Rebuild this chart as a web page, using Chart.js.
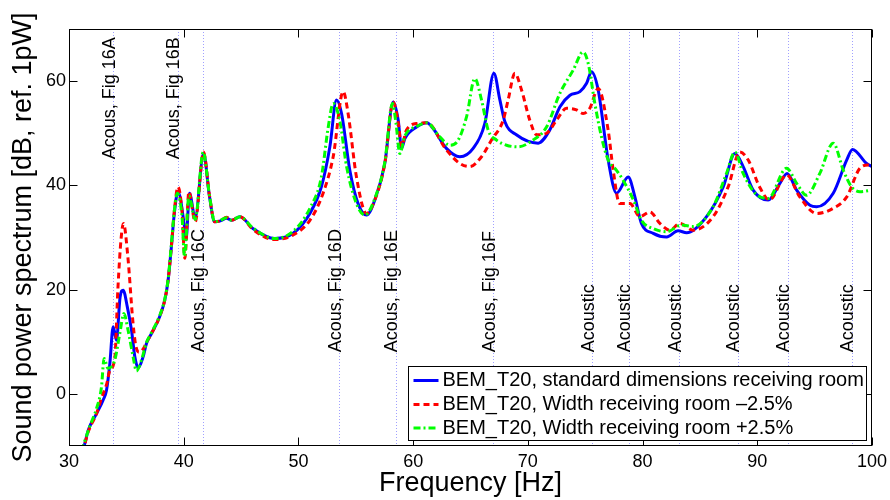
<!DOCTYPE html>
<html>
<head>
<meta charset="utf-8">
<script src="https://cdn.jsdelivr.net/npm/chart.js@4.4.0/dist/chart.umd.min.js"></script>
<style>
  html, body { margin: 0; padding: 0; background: #fff; }
  #wrap { width: 890px; height: 500px; }
</style>
</head>
<body>
<div id="wrap"><canvas id="chart" width="890" height="500"></canvas></div>
<script>
const FONT = '"Liberation Sans", Arial, Helvetica, sans-serif';

// axis ticks
const xTicks = [30, 40, 50, 60, 70, 80, 90, 100];
const yTicks = [0, 20, 40, 60];

// BEM_T20, standard dimensions
const blueFreq = [31.1, 31.38, 31.67, 32.4, 32.97, 33.27, 33.56, 33.85, 34.14, 34.45, 34.72, 35.1, 35.45, 35.74, 36.03,
  36.46, 36.76, 37.2, 37.9, 38.35, 38.64, 38.9, 39.2, 39.5, 40.07, 40.2, 40.5, 41.0, 41.73, 42.25, 42.7, 43.2, 43.73,
  44.17, 44.9, 46.05, 47.94, 49.54, 51.0, 52.0, 52.74, 53.32, 53.76, 54.48, 55.2, 55.94, 56.66, 57.53, 58.26, 58.7,
  58.99, 59.28, 60.3, 61.2, 61.74, 62.9, 64.07, 65.23, 66.25, 67.04, 67.56, 68.0, 69.0, 70.9, 71.9, 72.8, 73.67, 74.54,
  75.12, 75.55, 76.13, 77.0, 77.73, 78.75, 79.33, 79.9, 80.93, 82.1, 83.1, 83.84, 85.58, 87.03, 88.05, 88.77, 89.64,
  90.95, 91.97, 92.6, 93.43, 94.59, 95.17, 96.62, 97.8, 98.3, 99.53, 100];
const blueLevel = [-11.2, -9.5, -7.0, -3.8, -1.2, 0.7, 5.8, 12.9, 10.3, 18.5, 19.9, 16.5, 12.2, 7.1, 5.0,
  7.1, 9.7, 11.6, 14.8, 18.0, 21.8, 27.6, 35.0, 38.8, 32.0, 29.5, 38.5, 33.7, 46.1, 37.8, 33.0, 33.2, 33.7,
  33.3, 34.0, 31.7, 29.8, 30.8, 34.6, 39.7, 47.4, 56.4, 53.8, 42.9, 36.5, 34.3, 37.2, 44.2, 56.0, 52.5,
  47.1, 49.0, 51.2, 52.0, 50.9, 47.1, 45.5, 47.1, 51.9, 61.5, 56.4, 52.2, 49.7, 48.1, 50.6, 55.1, 57.3, 58.0,
  59.6, 61.8, 58.3, 44.9, 38.5, 41.6, 37.8, 32.7, 30.8, 30.1, 31.3, 30.9, 34.0, 39.7, 46.1, 43.6, 39.1,
  37.2, 40.4, 42.3, 39.1, 36.2, 35.9, 38.5, 44.9, 46.9, 44.2, 43.6];

// BEM_T20, width -2.5%
const redFreq = [31.1, 31.38, 31.67, 32.4, 32.83, 33.3, 33.56, 33.99, 34.27, 34.55, 34.75, 35.13, 35.56, 35.8, 36.1,
  36.46, 36.76, 37.2, 37.9, 38.35, 38.64, 38.9, 39.2, 39.5, 39.85, 40.1, 40.45, 41.0, 41.73, 42.25, 42.7, 43.2, 43.73,
  44.17, 44.9, 46.05, 47.94, 49.54, 51.0, 52.15, 53.03, 53.9, 54.33, 55.06, 55.94, 56.66, 57.53, 58.26, 58.7, 58.99,
  59.42, 60.43, 61.2, 62.9, 64.07, 64.94, 65.96, 66.83, 67.85, 68.28, 68.87, 69.45, 70.17, 70.76, 71.63, 72.5, 73.37,
  74.24, 74.82, 75.4, 76.13, 77.0, 77.44, 78.0, 78.9, 79.77, 80.64, 81.51, 82.38, 83.26, 84.4, 86.15, 87.46, 88.48,
  89.2, 90.2, 91.06, 92.55, 93.7, 95.17, 96.62, 97.8, 98.95, 99.67, 100];
const redLevel = [-11.2, -9.6, -7.3, -3.8, -0.8, 2.0, 4.5, 6.8, 20.5, 30.0, 32.7, 26.3, 14.1, 9.5, 8.0,
  8.6, 9.9, 11.6, 14.8, 18.0, 21.8, 27.6, 35.5, 39.7, 35.0, 26.0, 38.8, 33.0, 46.4, 38.0, 33.0, 33.2, 33.9,
  33.3, 34.0, 31.5, 29.6, 30.5, 33.3, 38.5, 45.5, 58.0, 53.8, 41.6, 34.6, 37.2, 44.2, 56.0, 52.0, 47.5,
  50.6, 51.9, 52.0, 46.8, 44.2, 43.6, 45.5, 48.7, 52.5, 56.4, 61.5, 58.3, 52.5, 49.7, 50.0, 52.5, 54.8,
  54.5, 53.8, 54.8, 58.6, 50.6, 42.9, 36.5, 36.5, 34.0, 34.9, 32.7, 31.4, 32.7, 31.4, 34.0, 39.7, 46.4,
  44.9, 39.7, 37.2, 42.0, 37.8, 34.6, 35.6, 37.8, 43.3, 43.9, 43.8];

// BEM_T20, width +2.5%
const greenFreq = [31.1, 31.38, 31.8, 32.4, 32.83, 33.06, 33.4, 33.99, 34.43, 34.78, 35.15, 35.59, 35.88, 36.32,
  36.76, 37.2, 37.9, 38.35, 38.64, 38.9, 39.2, 39.45, 39.85, 40.07, 40.45, 41.0, 41.7, 42.25, 42.7, 43.2, 43.73,
  44.17, 44.9, 46.05, 47.94, 49.54, 51.0, 52.0, 52.6, 53.03, 53.6, 54.2, 55.06, 55.8, 56.66, 57.53, 58.2, 58.5,
  58.84, 59.28, 60.3, 61.2, 62.33, 63.2, 63.93, 64.66, 65.38, 65.96, 66.54, 67.27, 68.14, 69.15, 70.46, 71.63,
  72.8, 73.95, 74.82, 75.26, 75.84, 76.42, 77.0, 77.73, 78.3, 79.2, 79.9, 80.93, 82.1, 83.4, 84.4, 86.15, 87.32,
  88.05, 88.77, 89.8, 90.95, 92.55, 93.43, 94.3, 95.45, 96.62, 97.5, 98.22, 98.95, 100];
const greenLevel = [-11.0, -9.0, -6.3, -2.8, 1.3, 6.8, 4.9, 6.5, 11.6, 15.4, 12.2, 7.1, 4.4, 6.5,
  9.9, 11.8, 15.0, 18.2, 22.0, 28.0, 35.5, 38.5, 34.0, 26.3, 38.0, 33.5, 46.4, 38.0, 33.0, 33.3, 33.8,
  33.3, 34.0, 31.8, 29.8, 31.2, 35.6, 41.6, 51.2, 55.7, 52.5, 43.6, 36.5, 34.3, 37.5, 44.5, 55.7, 52.0,
  46.1, 49.5, 51.3, 52.0, 49.3, 47.7, 48.7, 53.2, 60.5, 56.4, 50.6, 48.7, 47.7, 47.4, 48.7, 51.2,
  57.7, 62.1, 65.6, 63.4, 55.7, 49.3, 44.9, 42.9, 41.0, 37.2, 33.3, 31.7, 31.1, 32.4, 32.1, 35.9, 42.3,
  46.4, 42.3, 38.5, 37.5, 43.3, 40.4, 38.1, 42.3, 48.1, 42.9, 39.7, 38.8, 39.1];

// mode markers: frequency, label, text anchor level (dB)
const markerFreq = [33.85, 39.46, 41.64, 53.55, 58.49, 66.98, 75.6, 78.78, 83.19, 88.28, 92.67, 98.22];
const markerText = ['Acous, Fig 16A', 'Acous, Fig 16B', 'Acous, Fig 16C', 'Acous, Fig 16D', 'Acous, Fig 16E',
  'Acous, Fig 16F', 'Acoustic', 'Acoustic', 'Acoustic', 'Acoustic', 'Acoustic', 'Acoustic'];
const markerLevel = [45, 45, 8, 8, 8, 8, 8, 8, 8, 8, 8, 8];

const seriesLabels = ['BEM_T20, standard dimensions receiving room',
  'BEM_T20, Width receiving room \u20132.5%',
  'BEM_T20, Width receiving room +2.5%'];

function toPoints(xs, ys) {
    return xs.map((x, i) => ({ x: x, y: ys[i] }));
}

Chart.defaults.font.family = FONT;
Chart.defaults.color = '#000';

// dotted mode lines with rotated captions
const modeMarkers = {
    id: 'modeMarkers',
    beforeDatasetsDraw(chart) {
        const { ctx, chartArea: a, scales: { x, y } } = chart;
        ctx.save();
        ctx.strokeStyle = 'rgb(160,160,255)';
        ctx.lineWidth = 1;
        ctx.setLineDash([1, 2]);
        markerFreq.forEach(f => {
            const px = Math.round(x.getPixelForValue(f)) + 0.5;
            ctx.beginPath();
            ctx.moveTo(px, a.top);
            ctx.lineTo(px, a.bottom);
            ctx.stroke();
        });
        ctx.setLineDash([]);
        ctx.fillStyle = '#000';
        ctx.font = '18px ' + FONT;
        ctx.textAlign = 'left';
        ctx.textBaseline = 'alphabetic';
        markerFreq.forEach((f, i) => {
            const px = x.getPixelForValue(f) + 1.5;
            const py = y.getPixelForValue(markerLevel[i]);
            ctx.save();
            ctx.translate(px, py);
            ctx.rotate(-Math.PI / 2);
            ctx.fillText(markerText[i], 0, 0);
            ctx.restore();
        });
        ctx.restore();
    }
};

// box frame with inward ticks on all four sides
const frameTicks = {
    id: 'frameTicks',
    afterDraw(chart) {
        const { ctx, chartArea: a, scales: { x, y } } = chart;
        const L = Math.round(a.left) + 0.5, R = Math.round(a.right) - 0.5;
        const T = Math.round(a.top) + 0.5, B = Math.round(a.bottom) - 0.5;
        ctx.save();
        ctx.strokeStyle = '#000';
        ctx.lineWidth = 1;
        ctx.beginPath();
        xTicks.forEach(v => {
            const px = Math.round(x.getPixelForValue(v)) + 0.5;
            ctx.moveTo(px, B); ctx.lineTo(px, B - 8);
            ctx.moveTo(px, T); ctx.lineTo(px, T + 8);
        });
        yTicks.forEach(v => {
            const py = Math.round(y.getPixelForValue(v)) + 0.5;
            ctx.moveTo(L, py); ctx.lineTo(L + 8, py);
            ctx.moveTo(R, py); ctx.lineTo(R - 8, py);
        });
        ctx.stroke();
        ctx.strokeRect(L, T, R - L, B - T);
        ctx.restore();
    }
};

// legend box in the lower right corner of the axes
const legendBox = {
    id: 'legendBox',
    afterDraw(chart) {
        const { ctx, chartArea: a } = chart;
        const sets = chart.data.datasets;
        ctx.save();
        ctx.font = '20px ' + FONT;
        const textW = Math.max(...sets.map(d => ctx.measureText(d.label).width));
        const boxW = 34 + textW + 3;
        const boxH = 74;
        const right = Math.round(a.right) - 5.5;
        const bottom = Math.round(a.bottom) - 5.5;
        const left = Math.round(right - boxW) + 0.5;
        const top = bottom - boxH;
        ctx.fillStyle = '#fff';
        ctx.fillRect(left, top, right - left, bottom - top);
        ctx.strokeStyle = '#000';
        ctx.lineWidth = 1;
        ctx.strokeRect(left, top, right - left, bottom - top);
        const rows = [14, 38, 61.5];
        sets.forEach((d, i) => {
            const cy = top + rows[i];
            ctx.strokeStyle = d.borderColor;
            ctx.lineWidth = d.borderWidth;
            ctx.setLineDash(d.borderDash || []);
            ctx.beginPath();
            ctx.moveTo(left + 5, cy);
            ctx.lineTo(left + 30, cy);
            ctx.stroke();
            ctx.setLineDash([]);
            ctx.fillStyle = '#000';
            ctx.textBaseline = 'middle';
            ctx.fillText(d.label, left + 34, cy);
        });
        ctx.restore();
    }
};

new Chart(document.getElementById('chart'), {
    type: 'line',
    data: {
        datasets: [
            {
                label: seriesLabels[0],
                data: toPoints(blueFreq, blueLevel),
                borderColor: '#0000ff',
                borderWidth: 3,
                order: 3
            },
            {
                label: seriesLabels[1],
                data: toPoints(redFreq, redLevel),
                borderColor: '#ff0000',
                borderWidth: 3,
                borderDash: [6, 4],
                order: 2
            },
            {
                label: seriesLabels[2],
                data: toPoints(greenFreq, greenLevel),
                borderColor: '#00ff00',
                borderWidth: 3,
                borderDash: [7, 3, 2, 3],
                order: 1
            }
        ]
    },
    options: {
        responsive: false,
        animation: false,
        layout: { padding: { top: 29, right: 18, left: 0, bottom: 0 } },
        elements: {
            point: { radius: 0 },
            line: { cubicInterpolationMode: 'monotone', fill: false }
        },
        plugins: {
            legend: { display: false },
            tooltip: { enabled: false }
        },
        scales: {
            x: {
                type: 'linear',
                min: 30,
                max: 100,
                afterBuildTicks: s => { s.ticks = xTicks.map(v => ({ value: v })); },
                afterFit: s => { s.height = 54; s.paddingLeft = 0; s.paddingRight = 0; },
                grid: { display: false, drawTicks: false },
                border: { display: false },
                ticks: { font: { size: 18 }, color: '#000', padding: 5, maxRotation: 0, autoSkip: false },
                title: { display: true, text: 'Frequency [Hz]', font: { size: 27 }, color: '#000', padding: { top: 0, bottom: 0 } }
            },
            y: {
                type: 'linear',
                min: -10,
                max: 70,
                afterBuildTicks: s => { s.ticks = yTicks.map(v => ({ value: v })); },
                afterFit: s => { s.width = 69; s.paddingTop = 0; s.paddingBottom = 0; },
                grid: { display: false, drawTicks: false },
                border: { display: false },
                ticks: { font: { size: 18 }, color: '#000', padding: 3, autoSkip: false },
                title: { display: true, text: 'Sound power spectrum [dB, ref. 1pW]', font: { size: 27 }, color: '#000', padding: { top: 7, bottom: 0 } }
            }
        }
    },
    plugins: [modeMarkers, frameTicks, legendBox]
});
</script>
</body>
</html>
